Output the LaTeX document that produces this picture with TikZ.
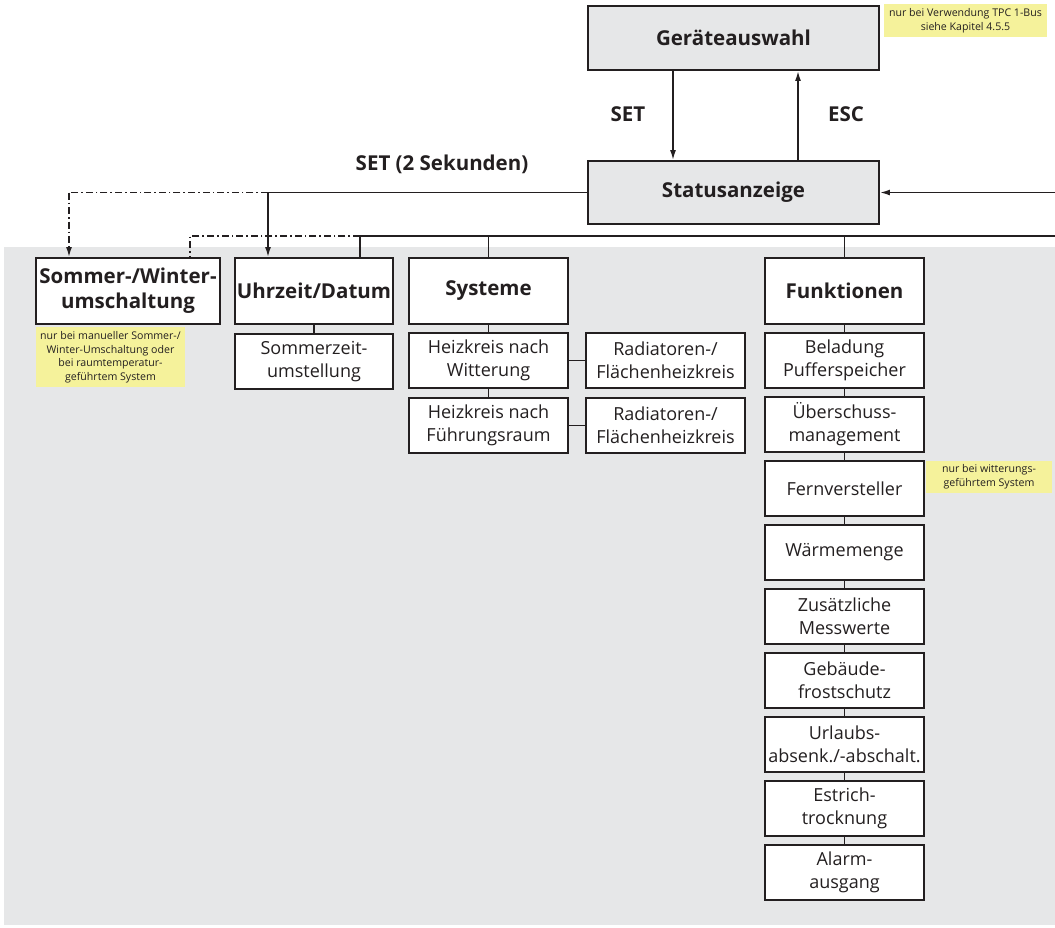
\documentclass[tikz,border=0pt]{standalone}
\usepackage{fontspec}
\setmainfont{Open Sans}
\usetikzlibrary{arrows.meta}
\definecolor{bg}{RGB}{230,231,232}
\definecolor{ink}{RGB}{35,31,32}
\definecolor{notey}{RGB}{245,242,155}
\begin{document}
\begin{tikzpicture}[x=1pt,y=-1pt,
  box/.style={draw=ink, line width=1.9pt, fill=white, inner sep=0pt, align=center, text=ink},
  reg/.style={box, font=\fontsize{18}{23}\selectfont, minimum width=159pt, minimum height=55pt},
  head/.style={box, font=\fontsize{20.5}{25}\selectfont\bfseries, minimum height=66pt},
  top/.style={box, fill=bg, font=\fontsize{20.5}{25}\selectfont\bfseries, minimum width=291pt, minimum height=64pt},
  con/.style={draw=ink, line width=1.6pt},
  ddpat/.style={dash pattern=on 7pt off 3pt on 1.6pt off 3pt},
  arr/.style={con, -{Latex[length=10pt,width=6pt]}},
  dd/.style={con, ddpat},
  notebox/.style={fill=notey, inner sep=0pt, align=center, text=ink, font=\fontsize{10.6}{13.5}\selectfont},
  lbl/.style={text=ink, font=\fontsize{20.5}{25}\selectfont\bfseries, inner sep=0pt}
]
\useasboundingbox (0,0) rectangle (1055,927);
\fill[bg] (4,247) rectangle (1055,925);

% top boxes
\node[top] (gera) at (733.5,38) {Geräteauswahl};
\node[top, minimum height=63pt] (status) at (733.5,192.5) {Statusanzeige};
\node[notebox, minimum width=163pt, minimum height=33pt] (n1) at (965.5,20.5) {nur bei Verwendung TPC 1-Bus\\siehe Kapitel 4.5.5};

\node[lbl] (lset) at (628,114) {SET};
\node[lbl] (lesc) at (846,114) {ESC};
\node[lbl] (lset2) at (442,164) {SET (2 Sekunden)};

% level 1
\node[head, minimum width=184pt] (sw) at (128,291) {Sommer-/Winter-\\umschaltung};
\node[head, minimum width=158pt] (uhr) at (314,291) {Uhrzeit/Datum};
\node[head, minimum width=159pt] (sys) at (488.5,291) {Systeme};
\node[head, minimum width=159pt] (fun) at (844.5,291) {Funktionen};

\node[notebox, minimum width=149pt, minimum height=60pt] (n2) at (110.5,357) {nur bei manueller Sommer-/\\Winter-Umschaltung oder\\bei raumtemperatur-\\geführtem System};

% level 2
\node[reg, minimum width=158pt] (sz) at (314,361.5) {Sommerzeit-\\umstellung};
\node[reg] (hw) at (488.5,360.5) {Heizkreis nach\\Witterung};
\node[reg] (hf) at (488.5,425.5) {Heizkreis nach\\Führungsraum};
\node[reg] (r1) at (665.5,360.5) {Radiatoren-/\\Flächenheizkreis};
\node[reg] (r2) at (665.5,425.5) {Radiatoren-/\\Flächenheizkreis};

% Funktionen column
\node[reg] (f1) at (844.5,360.5) {Beladung\\Pufferspeicher};
\node[reg] (f2) at (844.5,424.5) {Überschuss-\\management};
\node[reg] (f3) at (844.5,488.5) {Fernversteller};
\node[reg] (f4) at (844.5,552.5) {Wärmemenge};
\node[reg] (f5) at (844.5,616.5) {Zusätzliche\\Messwerte};
\node[reg] (f6) at (844.5,680.5) {Gebäude-\\frostschutz};
\node[reg] (f7) at (844.5,744.5) {Urlaubs-\\absenk./-abschalt.};
\node[reg] (f8) at (844.5,808.5) {Estrich-\\trocknung};
\node[reg] (f9) at (844.5,872.5) {Alarm-\\ausgang};

\node[notebox, minimum width=126pt, minimum height=32pt] (n3) at (989,476.5) {nur bei witterungs-\\geführtem System};

% coordinates
\coordinate (xset) at (673,0);
\coordinate (xesc) at (798,0);
\coordinate (rin) at (1055,192.5);
\coordinate (j1) at (268,192.5);
\coordinate (d1) at (69,192.5);
\coordinate (bR) at (1055,236);
\coordinate (j2) at (360,236);
\coordinate (d2) at (190,236);
\coordinate (jsys) at (488.5,236);
\coordinate (jfun) at (844.5,236);

% connectors
\draw[arr] (gera.south -| xset) -- (status.north -| xset);
\draw[arr] (status.north -| xesc) -- (gera.south -| xesc);
\draw[arr] (rin) -- (status.east);
\draw[con] (status.west) -- (j1);
\draw[arr] (j1) -- (uhr.north -| j1);
\draw[dd] (j1) -- (d1);
\draw[arr, ddpat] (d1) -- (sw.north -| d1);
\draw[con] (bR) -- (j2);
\draw[con] (j2) -- (uhr.north -| j2);
\draw[con] (jsys) -- (sys.north);
\draw[con] (jfun) -- (fun.north);
\draw[dd] (j2) -- (d2) -- (sw.north -| d2);

\draw[con] (uhr.south) -- (sz.north);
\draw[con] (sys.south) -- (hw.north);
\draw[con] (hw.south) -- (hf.north);
\draw[con] (hw.east) -- (r1.west);
\draw[con] (hf.east) -- (r2.west);

\draw[con] (fun.south) -- (f1.north);
\draw[con] (f1.south) -- (f2.north);
\draw[con] (f2.south) -- (f3.north);
\draw[con] (f3.south) -- (f4.north);
\draw[con] (f4.south) -- (f5.north);
\draw[con] (f5.south) -- (f6.north);
\draw[con] (f6.south) -- (f7.north);
\draw[con] (f7.south) -- (f8.north);
\draw[con] (f8.south) -- (f9.north);
\end{tikzpicture}
\end{document}
